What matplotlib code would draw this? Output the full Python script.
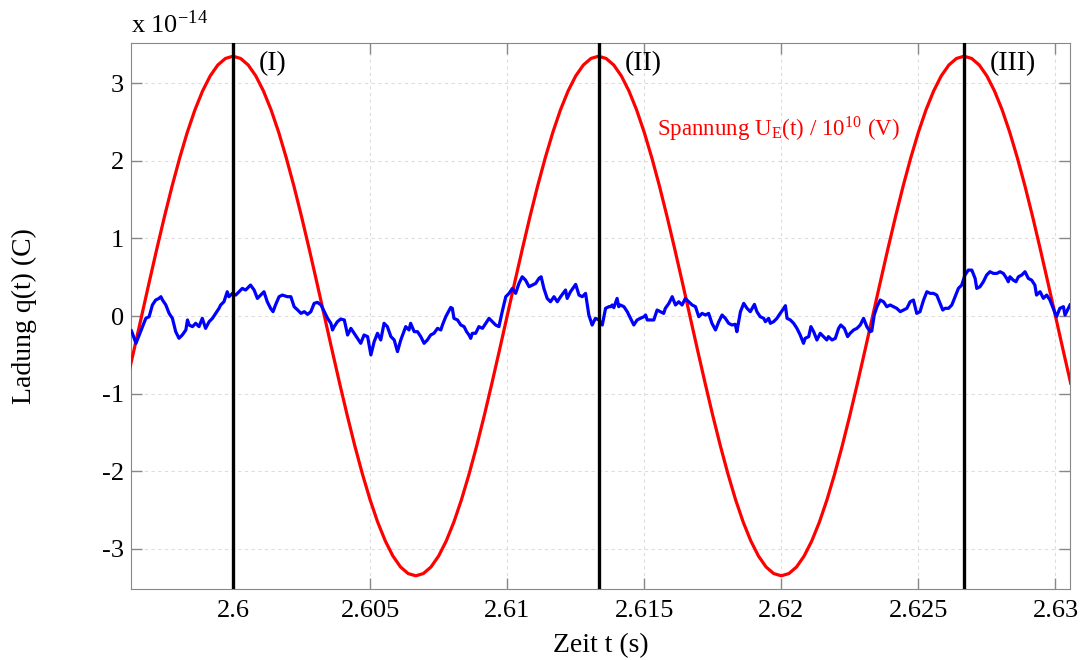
import numpy as np
import matplotlib
matplotlib.use('Agg')
import matplotlib.pyplot as plt

plt.rcParams['font.family'] = 'Liberation Serif'
plt.rcParams['mathtext.fontset'] = 'stix'
plt.rcParams['axes.unicode_minus'] = False

# Ladung q(t), in Einheiten von 1e-14 C
t_q = [2.59629, 2.59633, 2.59646, 2.59658, 2.59670, 2.59682, 2.59694, 2.59706, 2.59718,
       2.59730, 2.59737, 2.59743, 2.59755, 2.59767, 2.59779, 2.59791, 2.59803, 2.59815,
       2.59828, 2.59834, 2.59840, 2.59852, 2.59864, 2.59876, 2.59888, 2.59900, 2.59913,
       2.59925, 2.59937, 2.59949, 2.59955, 2.59967, 2.59979, 2.59985, 2.59998, 2.60010,
       2.60022, 2.60034, 2.60046, 2.60064, 2.60077, 2.60089, 2.60101, 2.60113, 2.60125,
       2.60137, 2.60146, 2.60155, 2.60168, 2.60180, 2.60198,
       2.60211, 2.60223, 2.60236, 2.60248, 2.60260, 2.60272, 2.60284, 2.60296, 2.60308,
       2.60321, 2.60333, 2.60345, 2.60357, 2.60363, 2.60369, 2.60381, 2.60393, 2.60406,
       2.60418, 2.60430, 2.60442, 2.60454, 2.60466, 2.60478, 2.60491, 2.60503, 2.60515,
       2.60527, 2.60539, 2.60551, 2.60563, 2.60576, 2.60588, 2.60600, 2.60612, 2.60630,
       2.60642, 2.60648, 2.60661, 2.60673, 2.60685, 2.60697, 2.60709, 2.60721, 2.60733,
       2.60746, 2.60758, 2.60764, 2.60776,
       2.60794, 2.60800, 2.60806, 2.60819, 2.60831, 2.60843, 2.60852, 2.60861, 2.60867,
       2.60873, 2.60885, 2.60897, 2.60910, 2.60922, 2.60934, 2.60946, 2.60958, 2.60970,
       2.60982, 2.60995, 2.61007, 2.61019, 2.61031, 2.61043, 2.61055, 2.61067, 2.61080,
       2.61092, 2.61104, 2.61116, 2.61124, 2.61134, 2.61146, 2.61158, 2.61171, 2.61183,
       2.61195, 2.61213, 2.61219, 2.61231, 2.61250, 2.61262, 2.61274, 2.61286, 2.61298,
       2.61310, 2.61322, 2.61335, 2.61347, 2.61359, 2.61371,
       2.61377, 2.61383, 2.61389, 2.61401, 2.61407, 2.61413, 2.61426, 2.61438, 2.61450,
       2.61462, 2.61474, 2.61486, 2.61499, 2.61505, 2.61511, 2.61523, 2.61535, 2.61547,
       2.61559, 2.61571, 2.61577, 2.61590, 2.61602, 2.61614, 2.61626, 2.61638, 2.61650,
       2.61662, 2.61675, 2.61687, 2.61699, 2.61711, 2.61723, 2.61735, 2.61747, 2.61760,
       2.61772, 2.61784, 2.61796, 2.61808, 2.61820, 2.61832, 2.61838, 2.61851, 2.61863,
       2.61875, 2.61887, 2.61902, 2.61911, 2.61923, 2.61936, 2.61942, 2.61954,
       2.61960, 2.61972, 2.61984, 2.61996, 2.62009, 2.62015, 2.62021, 2.62033, 2.62045,
       2.62057, 2.62069, 2.62081, 2.62087, 2.62100, 2.62108, 2.62118, 2.62130, 2.62142,
       2.62154, 2.62166, 2.62172, 2.62185, 2.62197, 2.62209, 2.62217, 2.62230, 2.62242,
       2.62251, 2.62264, 2.62276, 2.62288, 2.62300, 2.62312, 2.62324, 2.62330, 2.62339,
       2.62349, 2.62361, 2.62373, 2.62385, 2.62397, 2.62409, 2.62421, 2.62434, 2.62446,
       2.62458, 2.62470, 2.62482, 2.62494, 2.62506, 2.62519, 2.62531,
       2.62543, 2.62555, 2.62567, 2.62579, 2.62589, 2.62597, 2.62610, 2.62622, 2.62634,
       2.62646, 2.62658, 2.62670, 2.62682, 2.62695, 2.62707, 2.62713, 2.62725, 2.62737,
       2.62749, 2.62761, 2.62774, 2.62786, 2.62798, 2.62810, 2.62822, 2.62828, 2.62834,
       2.62846, 2.62856, 2.62865, 2.62877, 2.62889, 2.62901, 2.62913, 2.62925, 2.62931,
       2.62944, 2.62956, 2.62968, 2.62980, 2.62992, 2.63004, 2.63016, 2.63029, 2.63035,
       2.63047, 2.63053]
q = [-0.19, -0.223, -0.352, -0.245, -0.137, -0.030, -0.009, 0.142, 0.206,
     0.227, 0.249, 0.206, 0.142, 0.034, -0.030, -0.202, -0.287, -0.245,
     -0.180, -0.051, -0.116, -0.137, -0.094, -0.137, -0.030, -0.159, -0.073,
     -0.030, 0.034, 0.099, 0.142, 0.184, 0.313, 0.249, 0.292, 0.270,
     0.313, 0.356, 0.335, 0.399, 0.335, 0.227, 0.270, 0.313, 0.184,
     0.099, 0.056, 0.142, 0.249, 0.270, 0.249,
     0.249, 0.120, 0.077, 0.034, 0.056, 0.021, 0.056, 0.163, 0.176,
     0.142, 0.056, -0.030, -0.094, -0.180, -0.137, -0.073, -0.039, -0.051,
     -0.245, -0.159, -0.223, -0.287, -0.352, -0.245, -0.266, -0.502, -0.330,
     -0.223, -0.309, -0.094, -0.137, -0.266, -0.309, -0.459, -0.309, -0.137,
     -0.180, -0.094, -0.202, -0.202, -0.266, -0.352, -0.309, -0.245, -0.223,
     -0.159, -0.180, -0.116, -0.009,
     0.110, 0.099, -0.030, -0.051, -0.116, -0.137, -0.202, -0.245, -0.288,
     -0.223, -0.223, -0.137, -0.159, -0.094, -0.030, -0.073, -0.116, -0.137,
     0.056, 0.249, 0.292, 0.356, 0.292, 0.420, 0.506, 0.463, 0.378,
     0.399, 0.420, 0.485, 0.506, 0.356, 0.227, 0.184, 0.249, 0.184,
     0.249, 0.335, 0.227, 0.313, 0.408, 0.270, 0.249, 0.292, 0.013,
     -0.116, -0.030, -0.051, -0.116, 0.099, 0.120,
     0.120, 0.142, 0.107, 0.227, 0.120, 0.142, 0.120, 0.056, -0.030,
     -0.116, -0.051, -0.030, -0.009, 0.013, -0.051, -0.051, -0.051, 0.077,
     0.056, 0.034, 0.099, 0.163, 0.249, 0.142, 0.184, 0.142, 0.227,
     0.184, 0.142, 0.120, -0.009, 0.034, 0.013, 0.034, -0.094, -0.180,
     -0.073, 0.013, -0.030, -0.094, -0.116, -0.107, -0.202, 0.056, 0.163,
     0.099, 0.056, 0.150, 0.056, -0.009, -0.030, -0.073, -0.030,
     -0.094, -0.073, -0.030, 0.034, 0.099, 0.133, -0.030, -0.051, -0.094,
     -0.159, -0.245, -0.352, -0.288, -0.266, -0.137, -0.202, -0.309, -0.223,
     -0.266, -0.309, -0.266, -0.309, -0.288, -0.159, -0.116, -0.159, -0.266,
     -0.223, -0.180, -0.159, -0.116, -0.030, -0.137, -0.202, -0.193, 0.013,
     0.120, 0.206, 0.184, 0.120, 0.142, 0.120, 0.099, 0.056, 0.077,
     0.099, 0.184, 0.206, 0.034, 0.056, 0.206, 0.313,
     0.292, 0.292, 0.270, 0.163, 0.077, 0.099, 0.099, 0.142, 0.249,
     0.356, 0.399, 0.528, 0.592, 0.592, 0.485, 0.356, 0.378, 0.442,
     0.528, 0.571, 0.549, 0.549, 0.571, 0.549, 0.485, 0.442, 0.506,
     0.463, 0.442, 0.506, 0.528, 0.571, 0.485, 0.463, 0.399, 0.270,
     0.313, 0.228, 0.270, 0.206, 0.099, -0.009, 0.099, 0.120, 0.013,
     0.099, 0.142]

# Spannung U_E(t) / 1e10, gleiche Skala
t_u = [2.596111, 2.596389, 2.596667, 2.596944, 2.597222, 2.597500, 2.597778,
       2.598056, 2.598333, 2.598611, 2.598889, 2.599167, 2.599444, 2.599722,
       2.600000, 2.600278, 2.600556, 2.600833, 2.601111, 2.601389, 2.601667,
       2.601944, 2.602222, 2.602500, 2.602778, 2.603056, 2.603333, 2.603611,
       2.603889, 2.604167, 2.604444, 2.604722, 2.605000, 2.605278, 2.605556,
       2.605833, 2.606111, 2.606389, 2.606667, 2.606944, 2.607222, 2.607500,
       2.607778, 2.608056, 2.608333, 2.608611, 2.608889, 2.609167, 2.609444,
       2.609722, 2.610000, 2.610278, 2.610556, 2.610833, 2.611111, 2.611389,
       2.611667, 2.611944, 2.612222, 2.612500, 2.612778, 2.613056, 2.613333,
       2.613611, 2.613889, 2.614167, 2.614444, 2.614722, 2.615000, 2.615278,
       2.615556, 2.615833, 2.616111, 2.616389, 2.616667, 2.616944, 2.617222,
       2.617500, 2.617778, 2.618056, 2.618333, 2.618611, 2.618889, 2.619167,
       2.619444, 2.619722, 2.620000, 2.620278, 2.620556, 2.620833, 2.621111,
       2.621389, 2.621667, 2.621944, 2.622222, 2.622500, 2.622778, 2.623056,
       2.623333, 2.623611, 2.623889, 2.624167, 2.624444, 2.624722, 2.625000,
       2.625278, 2.625556, 2.625833, 2.626111, 2.626389, 2.626667, 2.626944,
       2.627222, 2.627500, 2.627778, 2.628056, 2.628333, 2.628611, 2.628889,
       2.629167, 2.629444, 2.629722, 2.630000, 2.630278, 2.630556]
u = [-0.867, -0.437, 0.0, 0.437, 0.867, 1.282, 1.675,
     2.039, 2.369, 2.658, 2.901, 3.095, 3.236, 3.321,
     3.350, 3.321, 3.236, 3.095, 2.901, 2.658, 2.369,
     2.039, 1.675, 1.282, 0.867, 0.437, 0.0, -0.437,
     -0.867, -1.282, -1.675, -2.039, -2.369, -2.658, -2.901,
     -3.095, -3.236, -3.321, -3.350, -3.321, -3.236, -3.095,
     -2.901, -2.658, -2.369, -2.039, -1.675, -1.282, -0.867,
     -0.437, 0.0, 0.437, 0.867, 1.282, 1.675, 2.039,
     2.369, 2.658, 2.901, 3.095, 3.236, 3.321, 3.350,
     3.321, 3.236, 3.095, 2.901, 2.658, 2.369, 2.039,
     1.675, 1.282, 0.867, 0.437, 0.0, -0.437, -0.867,
     -1.282, -1.675, -2.039, -2.369, -2.658, -2.901, -3.095,
     -3.236, -3.321, -3.350, -3.321, -3.236, -3.095, -2.901,
     -2.658, -2.369, -2.039, -1.675, -1.282, -0.867, -0.437,
     0.0, 0.437, 0.867, 1.282, 1.675, 2.039, 2.369,
     2.658, 2.901, 3.095, 3.236, 3.321, 3.350, 3.321,
     3.236, 3.095, 2.901, 2.658, 2.369, 2.039, 1.675,
     1.282, 0.867, 0.437, 0.0, -0.437, -0.867]

marker_t = [2.6, 2.613333, 2.626667]
marker_labels = ['(I)', '(II)', '(III)']

x_ticks = [2.6, 2.605, 2.61, 2.615, 2.62, 2.625, 2.63]
x_labels = ['2.6', '2.605', '2.61', '2.615', '2.62', '2.625', '2.63']
y_ticks = [-3, -2, -1, 0, 1, 2, 3]

fig = plt.figure(figsize=(10.81, 6.60), dpi=100)
ax = fig.add_axes([0.1212, 0.1076, 0.8686, 0.8272])

ax.plot(t_u, u, color='#ff0000', lw=2.3, zorder=3)
ax.plot(t_q, q, color='#0000ff', lw=2.3, zorder=4)
for mt, ml in zip(marker_t, marker_labels):
    ax.axvline(mt, color='black', lw=2.4, zorder=5)
    ax.text(mt + 0.00095, 3.25, ml, fontsize=20, ha='left', va='center')

ax.text(2.61545, 2.42, r'Spannung U$_{\mathregular{E}}$(t) / 10$^{\mathregular{10}}$ (V)',
        color='#ff0000', fontsize=16.5, ha='left', va='center')

ax.set_xlim(2.59628, 2.63053)
ax.set_ylim(-3.52, 3.52)
ax.set_xticks(x_ticks)
ax.set_xticklabels(x_labels)
ax.set_yticks(y_ticks)
ax.tick_params(direction='in', length=8, width=1, color='#888888', labelsize=19,
               top=True, right=True)
ax.tick_params(axis='x', pad=8)
ax.tick_params(axis='y', pad=5)
for s in ax.spines.values():
    s.set_color('#888888')
ax.grid(True, color='#dddddd', ls=(0, (3, 3)), lw=0.8)

ax.set_xlabel('Zeit t (s)', fontsize=20, labelpad=8)
ax.set_ylabel('Ladung q(t) (C)', fontsize=20, va='center')
ax.yaxis.set_label_coords(-0.113, 0.5)
ax.text(0.0, 1.01, r'x 10$^{\mathregular{-14}}$', transform=ax.transAxes,
        fontsize=19, ha='left', va='bottom')

fig.savefig('out.png', dpi=100)
